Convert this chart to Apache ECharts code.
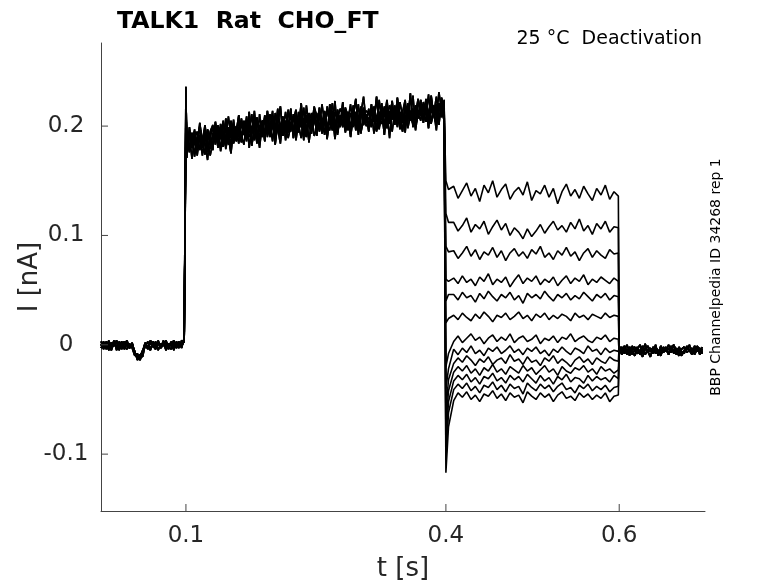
<!DOCTYPE html>
<html>
<head>
<meta charset="utf-8">
<script src="https://cdn.jsdelivr.net/npm/echarts@6/dist/echarts.min.js"></script>
<style>
  html, body { margin: 0; padding: 0; background: #fff; }
  #main { width: 778px; height: 583px; }
</style>
</head>
<body>
<div id="main"></div>
<script>
// current traces, in pA (converted to nA below)
// holding level before the pulse (dip near 45 ms)
const preA = [3,-2,1,-5,2,-1,4,-3,0,-4,2,-2,1,-7,-12,-10,-6,2,-3,4,-1,-4,2,-2,3,-5,1,-1,4,-3,2,-2,5];
const preB = [-3,2,-4,1,-2,4,-5,0,3,-2,-4,1,-3,-10,-8,-13,-5,-2,3,-4,1,-2,4,-3,0,2,-4,3,-2,1,-3,4,2];
const preC = [1,-4,3,-1,-5,2,-2,3,-4,1,4,-3,0,-6,-14,-9,-11,0,-4,2,-2,3,-5,1,-1,4,-2,-4,2,-1,3,-3,6];
const preD = [-1,3,-2,4,-3,0,2,-5,1,3,-1,-3,2,-9,-11,-14,-8,1,-2,-5,3,-1,1,-3,4,-2,0,2,-5,3,-1,1,3];

// prepulse 0.1 - 0.4 s (first value = spike at 0.1 s)
const pulseA = [236,
  171,199,180,195,176,203,184,174,197,188,
  178,204,186,199,181,207,190,175,201,194,
  210,185,202,190,213,182,199,208,187,204,
  186,214,195,207,183,203,218,191,205,196,
  216,189,208,196,221,193,210,185,206,214,
  191,217,198,212,188,220,203,195,215,199,
  222,196,213,190,209,225,198,216,201,211,
  195,220,204,227,199,214,192,218,206,223,
  201,226,208,195,219,204,230,199,215,207,
  224,203,217,198,228,209,220,201,226,213];
const pulseB = [212,
  195,178,191,172,188,200,181,193,176,190,
  199,183,196,188,205,179,193,202,184,197,
  184,203,192,209,180,198,206,189,201,192,
  208,190,201,186,212,197,184,206,194,215,
  195,211,187,204,199,217,190,207,196,203,
  212,197,220,203,190,209,199,223,194,208,
  199,214,202,193,219,206,196,212,227,203,
  216,200,211,196,224,206,218,201,210,195,
  213,199,222,209,194,217,205,228,200,211,
  205,219,210,229,203,214,196,221,208,218];
const pulseC = [204,
  183,192,170,189,195,178,187,201,182,179,
  194,186,201,177,190,198,183,205,191,187,
  199,191,183,205,194,211,188,196,180,202,
  193,205,199,214,188,201,196,209,187,203,
  208,198,191,213,204,187,219,201,193,210,
  200,213,206,192,218,201,210,188,207,216,
  210,194,205,220,199,213,192,208,217,200,
  203,215,193,210,205,221,200,212,189,217,
  206,218,200,213,224,198,209,216,203,221,
  216,207,225,211,202,219,208,231,214,205];
const pulseD = [226,
  190,176,185,197,173,192,180,196,186,173,
  185,197,180,193,203,187,199,182,196,190,
  204,192,198,186,207,195,201,184,211,193,
  197,209,190,203,198,216,193,207,201,189,
  200,206,215,194,209,200,190,212,198,218,
  209,195,203,214,199,208,221,197,212,202,
  204,217,209,198,211,203,220,195,206,214,
  212,202,218,207,197,215,209,224,202,208,
  208,214,197,211,205,221,210,202,219,213,
  210,222,214,206,218,211,227,207,216,220];
const pulseE = [198,
  187,181,194,184,179,191,173,189,192,184,
  190,196,185,202,193,181,198,189,206,186,
  192,207,196,188,201,193,214,191,198,205,
  204,195,211,199,191,209,202,196,213,198,
  201,209,197,205,214,202,196,207,200,211,
  203,210,199,207,215,204,196,213,206,200,
  212,203,209,200,214,196,207,218,204,209,
  207,199,213,204,211,216,203,208,219,210,
  215,207,212,203,218,209,214,206,212,225,
  209,216,204,213,221,210,206,217,211,224];
const pulseF = [218,
  180,194,185,175,190,198,188,183,169,195,
  201,189,191,180,195,187,209,192,185,200,
  195,186,205,198,190,200,187,206,196,190,
  210,199,193,205,196,202,190,208,199,194,
  204,196,210,201,189,207,198,205,212,191,
  198,211,193,206,201,196,214,204,192,210,
  203,209,196,212,205,200,210,193,214,205,
  201,213,207,195,209,202,213,198,214,206,
  219,204,213,209,200,216,207,212,196,214,
  213,206,218,203,215,209,202,219,210,216];

// test step 0.4 - 0.6 s, one trace per voltage (spike, tail, then settled level)
const step = [
  [150,142, 145,134,141,148,136,143,131,146,139,150,135,142,147,133,140,144,137,149,132,141,138,146,135,143,129,140,147,136,142,134,145,138,132,143,137,146,133,140,136],
  [120,112, 112,104,109,116,103,110,106,113,101,108,114,105,111,100,107,103,97,106,99,104,110,102,108,113,105,109,103,112,106,115,104,109,101,111,106,113,103,108,107],
  [90,85, 86,79,84,90,81,87,78,85,82,89,80,86,77,84,88,81,85,79,87,83,90,80,84,78,86,82,89,81,85,77,84,88,80,86,82,79,87,83,84],
  [60,58, 61,56,63,57,60,54,62,58,65,55,60,57,62,53,59,64,56,61,58,63,55,60,57,62,54,59,63,56,61,58,64,55,60,57,62,59,56,61,58],
  [40,46, 46,41,48,43,45,39,47,42,49,44,40,46,43,48,41,45,38,47,43,46,42,49,44,40,46,43,47,41,45,42,48,44,40,46,43,47,41,45,44],
  [20,24, 27,23,29,25,22,28,24,30,26,21,27,25,29,23,26,30,24,27,22,28,25,29,23,27,24,28,26,22,29,25,27,23,28,26,24,29,25,27,26],
  [-20,-8, 3,8,2,6,10,4,7,1,6,9,3,7,4,10,2,6,8,3,5,9,1,6,4,8,2,7,5,10,3,6,8,4,2,7,5,9,3,6,5],
  [-40,-22, -4,-9,-3,-7,-1,-8,-5,-10,-3,-6,-2,-8,-5,-1,-7,-4,-9,-3,-6,-2,-8,-5,-10,-4,-7,-2,-6,-9,-3,-5,-8,-1,-6,-4,-9,-3,-7,-5,-6],
  [-60,-32, -17,-12,-16,-10,-14,-19,-13,-16,-11,-18,-14,-12,-17,-9,-15,-13,-18,-11,-16,-14,-19,-12,-15,-10,-17,-13,-16,-20,-14,-11,-16,-13,-18,-12,-15,-17,-11,-14,-15],
  [-75,-42, -25,-20,-24,-19,-26,-22,-28,-21,-24,-18,-25,-22,-27,-20,-23,-26,-19,-24,-21,-27,-23,-19,-25,-22,-28,-20,-24,-26,-21,-23,-19,-25,-22,-27,-20,-24,-22,-26,-23],
  [-90,-52, -33,-28,-32,-27,-34,-30,-36,-29,-31,-26,-33,-30,-35,-28,-32,-29,-34,-27,-31,-35,-28,-33,-30,-36,-29,-32,-27,-34,-30,-31,-35,-28,-33,-29,-32,-30,-34,-28,-31],
  [-105,-62, -41,-36,-40,-35,-42,-38,-44,-37,-39,-34,-41,-37,-43,-36,-40,-38,-45,-35,-39,-42,-36,-40,-37,-43,-38,-35,-41,-39,-44,-37,-40,-36,-42,-38,-41,-37,-43,-39,-38],
  [-117,-75, -51,-44,-48,-43,-50,-46,-52,-45,-47,-42,-49,-45,-51,-44,-48,-46,-53,-43,-47,-50,-44,-48,-45,-52,-46,-43,-49,-47,-51,-44,-48,-45,-50,-46,-49,-44,-52,-47,-46]
];

// back to holding after 0.6 s
const postA = [-1,-7,-3,-9,-2,-6,-10,-4,0,-8,-3,-6,-11,-2,-5,-8,-1,-7,-4,-9,-3,0,-6,-10,-4,-2,-7,-5,-9,-1,-6,-3,-8];
const postB = [-5,-2,-8,-4,-10,-1,-6,-3,-9,-5,1,-7,-4,-8,-2,-6,-10,-3,-5,0,-7,-4,-9,-2,-6,-8,-1,-5,-3,-9,-4,-7,-2];
const postC = [-8,-4,-1,-6,-3,-9,-5,-2,-7,-11,-4,-1,-6,-3,-8,-5,-9,-2,-6,-4,-1,-8,-3,-7,-10,-5,-2,-6,-4,-8,-1,-5,-7];
const postD = [-3,-9,-5,0,-7,-4,-2,-8,-6,-1,-9,-5,-3,-7,0,-10,-4,-6,-2,-8,-5,-1,-7,-3,-9,-6,-4,0,-8,-5,-2,-9,-4];

const xTicks = [0.1, 0.4, 0.6];
const yTicks = [-0.1, 0, 0.1, 0.2];
const xMin = 0.002, xMax = 0.699;
const yMin = -0.152, yMax = 0.276;

// sample times in s
function grid(start, dt, n) {
  let out = [];
  for (let k = 0; k < n; k++) out.push(+(start + k * dt).toFixed(4));
  return out;
}
const preT = grid(0.002, 0.003, 33);
const pulseT = [0.1].concat(grid(0.101, 0.003, 100));
const stepT = [0.4, 0.403].concat(grid(0.409, 0.005, 39));
const postT = grid(0.6, 0.003, 33);

const pres = [preA, preB, preC, preD];
const pulses = [pulseA, pulseB, pulseC, pulseD, pulseE, pulseF];
const posts = [postA, postB, postC, postD];

function pairs(ts, vs) {
  return ts.map((t, k) => [t, vs[k] / 1000]);
}

const font = 'DejaVu Sans';
const axisColor = '#444';
const textColor = '#262626';

let series = step.map((s, i) => ({
  type: 'line',
  showSymbol: false,
  symbol: 'none',
  silent: true,
  lineStyle: { color: '#000', width: 1.6 },
  data: [].concat(
    pairs(preT, pres[i % 4]),
    pairs(pulseT, pulses[i % 6]),
    pairs(stepT, s),
    pairs(postT, posts[i % 4])
  )
}));

// inward tick marks, placed through the axes' own scales
series.push({
  type: 'custom',
  silent: true,
  z: 10,
  data: xTicks.map(v => [v, yMin]).concat(yTicks.map(v => [xMin, v])),
  renderItem: function (params, api) {
    let p = api.coord([api.value(0), api.value(1)]);
    let isX = params.dataIndex < xTicks.length;
    return {
      type: 'line',
      shape: isX ? { x1: p[0], y1: p[1], x2: p[0], y2: p[1] - 7 }
                 : { x1: p[0], y1: p[1], x2: p[0] + 7, y2: p[1] },
      style: { stroke: axisColor, lineWidth: 1 }
    };
  }
});

let chart = echarts.init(document.getElementById('main'), null, { renderer: 'canvas' });

chart.setOption({
  animation: false,
  backgroundColor: '#fff',
  title: {
    text: 'TALK1  Rat  CHO_FT',
    left: 112,
    top: 5,
    textStyle: { fontFamily: font, fontSize: 23.6, fontWeight: 'bold', color: '#000' }
  },
  grid: { left: 101, right: 73, top: 43, bottom: 72, containLabel: false, outerBoundsMode: 'none' },
  xAxis: {
    type: 'value',
    min: xMin,
    max: xMax,
    name: 't [s]',
    nameLocation: 'middle',
    nameGap: 45,
    nameMoveOverlap: false,
    nameTextStyle: { fontFamily: font, fontSize: 26, color: textColor },
    axisLine: { show: true, onZero: false, lineStyle: { color: axisColor, width: 1 } },
    axisTick: { show: false },
    axisLabel: { customValues: xTicks, fontFamily: font, fontSize: 23, color: textColor, margin: 14 },
    splitLine: { show: false }
  },
  yAxis: {
    type: 'value',
    min: yMin,
    max: yMax,
    name: 'I [nA]',
    nameLocation: 'middle',
    nameGap: 58,
    nameMoveOverlap: false,
    nameTextStyle: { fontFamily: font, fontSize: 26, color: textColor },
    axisLine: { show: true, onZero: false, lineStyle: { color: axisColor, width: 1 } },
    axisTick: { show: false },
    axisLabel: { customValues: yTicks, fontFamily: font, fontSize: 23, color: textColor, margin: 35, align: 'center' },
    splitLine: { show: false }
  },
  graphic: [
    {
      type: 'text',
      right: 76,
      top: 30,
      style: { text: '25 °C  Deactivation', fontFamily: font, fontSize: 19, fill: '#000' }
    },
    {
      type: 'text',
      x: 716,
      y: 277,
      rotation: Math.PI / 2,
      style: {
        text: 'BBP Channelpedia ID 34268 rep 1',
        fontFamily: font, fontSize: 14, fill: '#000',
        align: 'center', verticalAlign: 'middle'
      }
    }
  ],
  series: series
});
</script>
</body>
</html>
